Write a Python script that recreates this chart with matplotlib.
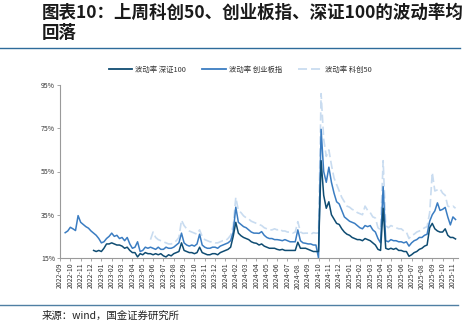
import matplotlib
matplotlib.use("Agg")
import matplotlib.pyplot as plt
import numpy as np
from matplotlib.lines import Line2D

plt.rcParams['font.family'] = ['Noto Sans CJK SC', 'DejaVu Sans']

# Month tick labels (x position = month index)
month_labels = [
    "2022-09", "2022-10", "2022-11", "2022-12",
    "2023-01", "2023-02", "2023-03", "2023-04", "2023-05", "2023-06",
    "2023-07", "2023-08", "2023-09", "2023-10", "2023-11", "2023-12",
    "2024-01", "2024-02", "2024-03", "2024-04", "2024-05", "2024-06",
    "2024-07", "2024-08", "2024-09", "2024-10", "2024-11", "2024-12",
    "2025-01", "2025-02", "2025-03", "2025-04", "2025-05", "2025-06",
    "2025-07", "2025-08", "2025-09", "2025-10", "2025-11",
]

# Weekly volatility readings (%), four per month
cyb_start = 0.5   # 创业板指 first reading (month index)
cyb_vol = [
    26.7, 27.5,
    29.2, 28.5, 27.7, 34.6,
    31.5, 30.5, 29.5, 28.8,
    27.5, 26.5, 25.5, 24.0,
    22.0, 22.5, 24.0, 25.0,
    26.5, 25.0, 25.5, 24.0,
    24.5, 23.0, 24.5, 21.5,
    19.5, 20.0, 22.5, 18.0,
    18.5, 20.0, 19.5, 20.0,
    19.5, 19.0, 20.0, 19.0,
    19.0, 20.0, 19.5, 19.5,
    20.0, 21.0, 22.0, 26.5,
    22.0, 21.0, 20.5, 21.0,
    20.5, 21.5, 26.0, 21.0,
    20.0, 19.5, 19.5, 20.0,
    20.0, 19.5, 20.5, 21.0,
    21.5, 22.0, 23.0, 27.0,
    38.5, 31.5, 30.5, 29.5,
    29.0, 28.0, 27.0, 26.5,
    26.5, 26.4, 27.2, 25.5,
    24.5, 24.0, 24.0, 23.5,
    23.5, 23.3, 23.0, 23.5,
    23.0, 22.5, 22.5, 22.5,
    28.0, 23.0, 22.0, 21.8,
    21.5, 21.5, 21.0, 21.0,
    15.0, 74.5, 55.0, 50.0,
    57.0, 50.0, 45.0, 41.0,
    40.0, 37.0, 34.0, 33.0,
    32.0, 31.5, 31.0, 30.0,
    29.0, 28.5, 30.0, 29.5,
    30.0, 28.0, 27.0, 24.0,
    22.0, 48.0, 23.0, 22.5,
    23.5, 23.0, 23.0, 22.5,
    22.5, 22.0, 22.5, 20.5,
    22.0, 23.0, 23.5, 24.5,
    24.5, 25.5, 26.0, 32.0,
    35.0, 36.8, 40.5, 37.0,
    37.5, 38.4, 34.0, 30.3,
    34.0, 32.8,
]

szcz_start = 3.25  # 深证100 first reading
szcz_vol = [
    18.5, 18.0, 18.5,
    18.0, 19.5, 21.5, 21.5,
    22.0, 21.5, 21.0, 21.0,
    20.5, 19.5, 20.0, 18.5,
    17.5, 17.5, 15.5, 17.0,
    16.5, 17.5, 17.0, 17.0,
    16.5, 17.0, 16.5, 17.0,
    16.0, 15.5, 16.5, 16.0,
    17.0, 17.5, 18.0, 22.0,
    18.5, 18.0, 17.5, 17.5,
    17.0, 17.5, 20.0, 17.5,
    17.0, 16.5, 16.5, 17.0,
    17.0, 16.5, 17.5, 18.0,
    18.5, 19.0, 20.0, 25.0,
    31.5, 26.5, 25.3, 24.5,
    24.0, 23.5, 22.5, 22.0,
    21.8, 21.0, 21.5, 20.5,
    20.0, 19.5, 19.5, 19.5,
    19.0, 18.7, 19.0, 18.5,
    18.5, 18.5, 18.5, 18.5,
    22.3, 19.5, 19.5, 19.5,
    19.0, 18.5, 18.0, 18.0,
    18.0, 60.0, 44.0, 38.0,
    41.0, 35.0, 33.0, 31.0,
    30.5, 28.5, 27.0, 26.0,
    25.5, 24.5, 24.0, 23.5,
    23.5, 23.0, 24.0, 23.5,
    23.0, 22.0, 21.0, 19.0,
    18.5, 38.0, 19.5, 19.0,
    19.5, 19.0, 19.5, 18.5,
    18.5, 18.0, 18.0, 15.8,
    16.5, 17.5, 18.0, 19.0,
    19.5, 20.5, 21.0, 29.0,
    31.0, 28.5, 27.5, 27.0,
    27.0, 28.5, 25.5, 24.5,
    24.5, 23.8,
]

kc50_start = 8.75  # 科创50 first reading
kc50_vol = [
    23.5,
    27.0, 24.5, 23.5, 23.0,
    22.5, 22.0, 21.5, 21.5,
    22.0, 23.0, 24.5, 32.5,
    30.0, 28.5, 27.5, 27.0,
    26.5, 26.0, 28.0, 25.0,
    23.5, 23.0, 22.5, 22.5,
    22.0, 22.0, 22.5, 23.0,
    23.0, 24.0, 25.5, 30.0,
    43.0, 37.0, 36.0, 34.5,
    33.6, 33.0, 32.0, 31.5,
    31.0, 30.5, 30.0, 29.0,
    28.5, 28.0, 28.0, 28.5,
    28.0, 28.5, 27.5, 27.5,
    27.0, 27.0, 26.5, 27.0,
    31.8, 27.0, 26.4, 26.5,
    26.5, 26.0, 26.7, 26.5,
    26.5, 91.0, 70.0, 62.0,
    65.0, 58.0, 52.0, 49.0,
    46.0, 43.0, 41.0, 39.0,
    38.5, 37.5, 37.0, 36.0,
    35.5, 35.0, 39.0, 37.0,
    36.0, 34.0, 33.5, 29.0,
    28.0, 60.0, 30.0, 29.0,
    30.0, 29.5, 29.0, 28.5,
    28.5, 27.5, 27.0, 24.0,
    25.5, 26.0, 27.0, 27.5,
    28.0, 29.0, 29.5, 36.0,
    54.5, 46.0, 46.5, 47.0,
    45.0, 44.0, 39.0, 38.5,
    39.0, 38.0,
]

y_ticks = [15, 35, 55, 75, 95]

c_dark = "#0f4c72"
c_mid = "#3b7dc2"
c_light = "#c9dcf0"

W, H = 475, 322
fig = plt.figure(figsize=(W / 100, H / 100), dpi=100)

ax = fig.add_axes([60 / W, 1 - 258 / H, 397.6 / W, 173 / H])


def xs(start, vals):
    return start + np.arange(len(vals)) * 0.25


ax.plot(xs(kc50_start, kc50_vol), kc50_vol, color=c_light, lw=1.2,
        dashes=(5, 2.2), zorder=2)
ax.plot(xs(cyb_start, cyb_vol), cyb_vol, color=c_mid, lw=1.1, zorder=3)
ax.plot(xs(szcz_start, szcz_vol), szcz_vol, color=c_dark, lw=1.1, zorder=4)

ax.set_xlim(0, 38.45)
ax.set_ylim(15, 95)
ax.set_yticks(y_ticks)
ax.set_yticklabels([f"{v}%" for v in y_ticks], fontsize=5, color="#333333")
ax.set_xticks(range(len(month_labels)))
ax.set_xticklabels(month_labels, rotation=90, fontsize=5, color="#333333")
ax.tick_params(axis="both", length=2, width=0.6, color="#999999", pad=1.5)

for side in ("top", "right"):
    ax.spines[side].set_visible(False)
for side in ("left", "bottom"):
    ax.spines[side].set_color("#9a9a9a")
    ax.spines[side].set_linewidth(0.8)

handles = [
    Line2D([], [], color=c_dark, lw=1.3),
    Line2D([], [], color=c_mid, lw=1.3),
    Line2D([], [], color=c_light, lw=1.3, dashes=(5, 2.2)),
]
fig.legend(handles, ["波动率 深证100", "波动率 创业板指", "波动率 科创50"],
           loc="center", bbox_to_anchor=(240 / W, 1 - 70 / H), ncol=3,
           frameon=False, fontsize=5.3, handlelength=3.2, columnspacing=2.2,
           handletextpad=0.4, labelcolor="#333333")

# Title block
fig.text(42 / W, 1 - 13 / H, "图表10：上周科创50、创业板指、深证100的波动率均",
         fontsize=12.6, fontweight="bold", color="#1a1a1a",
         ha="left", va="center")
fig.text(42 / W, 1 - 33 / H, "回落", fontsize=12.6, fontweight="bold",
         color="#1a1a1a", ha="left", va="center")

# Horizontal rules above and below the chart
fig.add_artist(Line2D([0, 460 / W], [1 - 48 / H, 1 - 48 / H],
                      color="#2e6b9a", lw=1.0))
fig.add_artist(Line2D([0, 458 / W], [1 - 305 / H, 1 - 305 / H],
                      color="#4f7fa3", lw=1.0))

fig.text(42 / W, 1 - 315.5 / H, "来源：wind，国金证券研究所", fontsize=7.5,
         color="#222222", ha="left", va="center")

fig.savefig("out.png", dpi=100)
